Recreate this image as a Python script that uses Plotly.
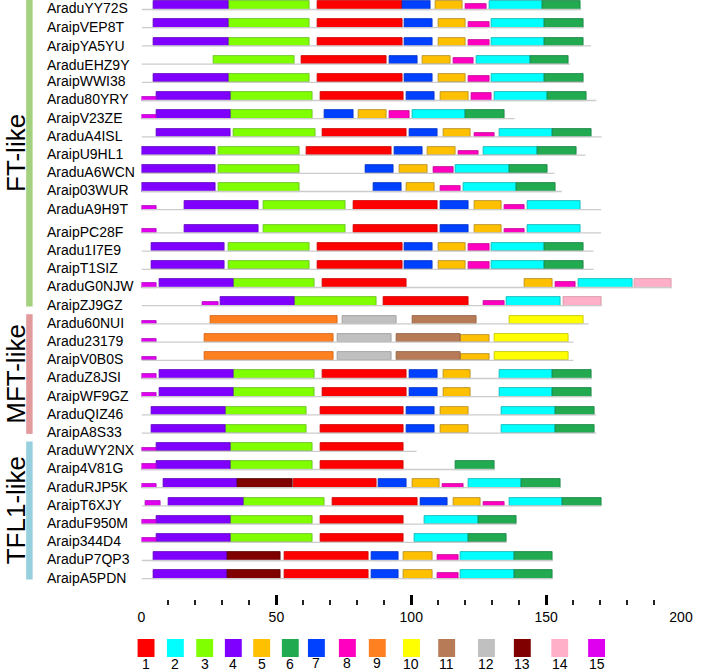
import plotly.graph_objects as go

# ---------------- data ----------------
names = ["AraduYY72S", "AraipVEP8T", "AraipYA5YU", "AraduEHZ9Y", "AraipWWI38", "Aradu80YRY",
         "AraipV23ZE", "AraduA4ISL", "AraipU9HL1", "AraduA6WCN", "Araip03WUR", "AraduA9H9T",
         "AraipPC28F", "Aradu1I7E9", "AraipT1SIZ", "AraduG0NJW", "AraipZJ9GZ",
         "Aradu60NUI", "Aradu23179", "AraipV0B0S", "AraduZ8JSI", "AraipWF9GZ", "AraduQIZ46", "AraipA8S33",
         "AraduWY2NX", "Araip4V81G", "AraduRJP5K", "AraipT6XJY", "AraduF950M", "Araip344D4",
         "AraduP7QP3", "AraipA5PDN"]

lengths = [163, 164, 166.7, 158.9, 164, 168.6, 138.3, 170.6, 164.6, 153.1, 155.8, 170.4,
           170.4, 167.6, 167.6, 196.5, 170.7,
           165.8, 160.1, 160.1, 166.8, 166.8, 168.6, 168.6,
           102, 130.8, 155.3, 170.4, 139.1, 135.3, 152.5, 152.5]

motif_ids = [
    [4, 3, 1, 7, 5, 8, 2, 6],
    [4, 3, 1, 7, 5, 8, 2, 6],
    [4, 3, 1, 7, 5, 8, 2, 6],
    [3, 1, 7, 5, 8, 2, 6],
    [4, 3, 1, 7, 5, 8, 2, 6],
    [15, 4, 3, 1, 7, 5, 8, 2, 6],
    [15, 4, 3, 7, 5, 8, 2, 6],
    [4, 3, 1, 7, 5, 8, 2, 6],
    [4, 3, 1, 7, 5, 8, 2, 6],
    [4, 3, 7, 5, 8, 2, 6],
    [4, 3, 7, 5, 8, 2, 6],
    [15, 4, 3, 1, 7, 5, 8, 2],
    [15, 4, 3, 1, 7, 5, 8, 2],
    [4, 3, 1, 7, 5, 8, 2, 6],
    [4, 3, 1, 7, 5, 8, 2, 6],
    [15, 4, 3, 1, 5, 8, 2, 14],
    [15, 4, 3, 1, 8, 2, 14],
    [15, 9, 12, 11, 10],
    [15, 9, 12, 11, 5, 10],
    [15, 9, 12, 11, 5, 10],
    [15, 4, 3, 1, 7, 5, 2, 6],
    [15, 4, 3, 1, 7, 5, 2, 6],
    [4, 3, 1, 7, 5, 2, 6],
    [4, 3, 1, 7, 5, 2, 6],
    [15, 4, 3, 1],
    [15, 4, 3, 1, 6],
    [15, 4, 13, 1, 7, 5, 8, 2, 6],
    [15, 4, 3, 1, 7, 5, 8, 2, 6],
    [15, 4, 3, 1, 2, 6],
    [15, 4, 3, 1, 2, 6],
    [4, 13, 1, 7, 5, 8, 2, 6],
    [4, 13, 1, 7, 5, 8, 2, 6],
]

motif_starts = [
    [4.6, 32.1, 65.2, 96.6, 109.1, 120.3, 129.0, 148.6],
    [4.6, 32.1, 65.2, 97.6, 110.0, 121.4, 129.9, 149.5],
    [4.6, 32.1, 65.2, 97.6, 110.0, 121.4, 129.9, 149.5],
    [26.6, 59.5, 91.9, 104.3, 115.7, 124.1, 144.1],
    [4.6, 32.1, 65.2, 97.6, 110.0, 121.4, 129.9, 149.5],
    [0, 5.5, 33.1, 66.2, 98.3, 110.9, 122.3, 130.8, 150.7],
    [0, 5.5, 33.1, 68.0, 80.5, 91.9, 100.6, 120.1],
    [5.7, 34.2, 67.1, 99.5, 111.8, 123.3, 132.7, 152.5],
    [0, 28.5, 61.3, 93.7, 106.0, 117.5, 126.9, 146.8],
    [0, 28.5, 83.1, 95.5, 108.1, 116.5, 136.5],
    [0, 28.5, 86.1, 98.4, 110.9, 119.3, 139.2],
    [0, 15.9, 45.4, 78.6, 110.9, 123.3, 134.5, 143.2],
    [0, 15.9, 45.4, 78.6, 110.9, 123.3, 134.5, 143.2],
    [3.6, 32.1, 65.2, 97.6, 110.0, 121.4, 129.9, 149.5],
    [3.6, 32.1, 65.2, 97.6, 110.0, 121.4, 129.9, 149.5],
    [0, 6.5, 34.1, 67.1, 142.0, 153.5, 162.0, 182.8],
    [22.7, 29.2, 56.9, 89.9, 126.9, 135.4, 156.4],
    [0, 25.4, 74.6, 100.6, 136.6],
    [0, 23.4, 72.8, 94.7, 118.3, 130.8],
    [0, 23.4, 72.8, 94.7, 118.3, 130.8],
    [0, 6.5, 34.1, 67.1, 99.5, 111.8, 132.7, 152.5],
    [0, 6.5, 34.1, 67.1, 99.5, 111.8, 132.7, 152.5],
    [3.6, 31.2, 66.2, 98.3, 110.9, 133.6, 153.5],
    [3.6, 31.2, 66.2, 98.3, 110.9, 133.6, 153.5],
    [0, 5.5, 33.1, 66.2],
    [0, 5.5, 33.1, 66.2, 116.4],
    [0, 8.2, 35.7, 56.3, 87.9, 100.4, 111.7, 121.4, 141.0],
    [1.6, 10.1, 37.7, 70.9, 103.3, 115.6, 126.9, 136.5, 156.2],
    [0, 5.5, 33.1, 66.2, 105.1, 124.9],
    [0, 5.5, 33.1, 66.2, 101.3, 121.1],
    [4.6, 31.7, 52.9, 85.1, 97.3, 109.9, 118.3, 138.3],
    [4.6, 31.7, 52.9, 85.1, 97.3, 109.9, 118.3, 138.3],
]

motif_ends = [
    [32.1, 62.3, 96.6, 107.0, 119.1, 127.8, 148.6, 162.8],
    [32.1, 62.3, 96.6, 108.0, 120.2, 129.0, 149.5, 164.0],
    [32.1, 62.3, 96.6, 108.0, 120.2, 129.0, 149.5, 164.0],
    [56.7, 90.7, 102.2, 114.7, 123.2, 144.1, 158.3],
    [32.1, 62.3, 96.6, 108.0, 120.2, 129.0, 149.5, 164.0],
    [5.5, 33.1, 63.5, 97.3, 108.8, 121.2, 129.8, 150.7, 164.9],
    [5.5, 33.1, 63.5, 78.5, 90.7, 99.4, 120.1, 134.4],
    [33.1, 64.4, 98.3, 109.9, 122.1, 130.8, 152.5, 166.8],
    [27.3, 58.6, 92.8, 104.2, 116.4, 125.0, 146.8, 161.1],
    [27.3, 58.6, 93.6, 105.9, 115.7, 136.5, 150.7],
    [27.3, 58.6, 96.5, 108.8, 118.3, 139.2, 153.5],
    [5.5, 43.5, 75.6, 109.9, 121.2, 133.4, 142.0, 162.8],
    [5.5, 43.5, 75.6, 109.9, 121.2, 133.4, 142.0, 162.8],
    [30.9, 62.3, 96.6, 108.0, 120.2, 129.0, 149.5, 163.8],
    [30.9, 62.3, 96.6, 108.0, 120.2, 129.0, 149.5, 163.8],
    [5.5, 34.1, 64.1, 98.3, 152.5, 161.0, 181.9, 196.5],
    [28.4, 56.9, 87.0, 121.4, 134.5, 155.3, 170.6],
    [5.5, 72.8, 94.6, 124.1, 163.8],
    [5.5, 71.0, 92.8, 118.3, 129.0, 158.3],
    [5.5, 71.0, 92.8, 118.3, 129.0, 158.3],
    [5.5, 34.1, 64.1, 98.3, 109.9, 122.1, 152.5, 166.8],
    [5.5, 34.1, 64.1, 98.3, 109.9, 122.1, 152.5, 166.8],
    [31.2, 61.2, 97.3, 108.8, 121.2, 153.5, 167.8],
    [31.2, 61.2, 97.3, 108.8, 121.2, 153.5, 167.8],
    [5.5, 33.1, 63.5, 97.3],
    [5.5, 33.1, 63.5, 97.3, 130.8],
    [5.5, 35.7, 55.9, 87.0, 98.2, 110.6, 119.3, 141.0, 155.3],
    [7.2, 37.7, 67.9, 102.2, 113.5, 125.7, 134.5, 156.2, 170.4],
    [5.5, 33.1, 63.5, 97.3, 124.9, 139.1],
    [5.5, 33.1, 63.5, 97.3, 121.1, 135.3],
    [31.7, 51.7, 84.0, 95.4, 108.0, 117.5, 138.3, 152.5],
    [31.7, 51.7, 84.0, 95.4, 108.0, 117.5, 138.3, 152.5],
]

# relative box heights (significance) per motif occurrence
motif_heights = [
    [1, 1, 1, 1, 1, 0.7, 1, 1],
    [1, 1, 1, 1, 1, 0.72, 1, 1],
    [1, 1, 1, 1, 1, 0.72, 1, 1],
    [1, 1, 1, 1, 0.76, 1, 1],
    [1, 1, 1, 1, 1, 0.72, 1, 1],
    [0.4, 1, 1, 1, 1, 1, 0.9, 1, 1],
    [0.4, 1, 1, 1, 1, 0.9, 1, 1],
    [1, 1, 1, 1, 1, 0.5, 1, 1],
    [1, 1, 1, 1, 1, 0.5, 1, 1],
    [1, 1, 1, 1, 0.7, 1, 1],
    [1, 1, 1, 1, 0.7, 1, 1],
    [0.5, 1, 1, 1, 1, 1, 0.6, 1],
    [0.5, 1, 1, 1, 1, 1, 0.5, 1],
    [1, 1, 1, 1, 1, 0.9, 1, 1],
    [1, 1, 1, 1, 1, 0.9, 1, 1],
    [0.5, 1, 1, 1, 1, 0.6, 1, 1],
    [0.5, 1, 1, 1, 0.6, 1, 1],
    [0.4, 1, 1, 1, 1],
    [0.4, 1, 1, 1, 0.8, 1],
    [0.4, 1, 1, 1, 0.8, 1],
    [0.5, 1, 1, 1, 1, 1, 1, 1],
    [0.5, 1, 1, 1, 1, 1, 1, 1],
    [1, 1, 1, 1, 1, 1, 1],
    [1, 1, 1, 1, 1, 1, 1],
    [0.4, 1, 1, 1],
    [0.6, 1, 1, 1, 1],
    [0.5, 1, 1, 1, 1, 1, 0.45, 1, 1],
    [0.6, 1, 1, 1, 1, 1, 0.45, 1, 1],
    [0.5, 1, 1, 1, 1, 1],
    [0.5, 1, 1, 1, 1, 1],
    [1, 1, 1, 1, 1, 0.7, 1, 1],
    [1, 1, 1, 1, 1, 0.7, 1, 1],
]

groups = ["FT-like", "MFT-like", "TFL1-like"]
group_sizes = [17, 7, 8]
group_colors = ["#a3d17e", "#e29a9d", "#96d0de"]

motif_labels = [str(i) for i in range(1, 16)]
motif_colors = ["#ff0000", "#00ffff", "#80ff00", "#8000ff", "#ffc000", "#22aa50", "#0040ff",
                "#ff00c0", "#ff8020", "#ffff00", "#b87b57", "#c0c0c0", "#800000", "#ffb0c8", "#e000f0"]
motif_edges = ["#cc0000", "#10b0b0", "#66bb22", "#6000c0", "#b08a20", "#138040", "#0030c0",
               "#c00090", "#d06010", "#c0c000", "#906040", "#999999", "#500000", "#d090a0", "#b000c0"]

tick_vals = [0, 50, 100, 150, 200]

# ---------------- layout helpers (pixels) ----------------
W, H = 705, 672
row_pitch = 18.2
first_center = 5.3
extra_gap_after = 12   # rows from this index shifted down
extra_gap = 5
box_h = 8.4
FONT = "Liberation Sans, Arial, Helvetica"

def row_center(i):
    return first_center + row_pitch * i + (extra_gap if i >= extra_gap_after else 0)

def row_line_y(i):
    return row_center(i) + box_h / 2

fig = go.Figure()

# backbone lines
lx, ly = [], []
for i, L in enumerate(lengths):
    yb = row_line_y(i)
    lx += [0, L, None]
    ly += [yb, yb, None]
fig.add_trace(go.Scatter(x=lx, y=ly, mode="lines", line=dict(color="#cccccc", width=1.3),
                         hoverinfo="skip", showlegend=False))

# motif boxes
for m in range(1, 16):
    ys, xs, bs, ws = [], [], [], []
    for i in range(len(names)):
        for mid, s, e, h in zip(motif_ids[i], motif_starts[i], motif_ends[i], motif_heights[i]):
            if mid != m:
                continue
            hh = box_h * h
            ys.append(row_line_y(i) - hh / 2)
            bs.append(s)
            xs.append(e - s)
            ws.append(hh)
    if not ys:
        continue
    fig.add_trace(go.Bar(orientation="h", y=ys, x=xs, base=bs, width=ws,
                         marker=dict(color=motif_colors[m - 1],
                                     line=dict(color=motif_edges[m - 1], width=0.8)),
                         name=motif_labels[m - 1], showlegend=False))

annotations = []
shapes = []

# row labels
label_dy = [0, 0, 1.5, 2.5] + [0] * 28
for i, n in enumerate(names):
    annotations.append(dict(x=43 / W, xref="paper", xanchor="left", y=row_center(i) + 3 + label_dy[i],
                            yref="y", yanchor="middle", text=n, showarrow=False, borderpad=0,
                            font=dict(family=FONT, size=14, color="black")))

# group bars and labels
start = 0
for g, size, col in zip(groups, group_sizes, group_colors):
    top = row_center(start) - 5.5
    bot = row_center(start + size - 1) + 5
    shapes.append(dict(type="rect", xref="paper", yref="y", x0=22.7 / W, x1=29.3 / W,
                       y0=max(top, 0), y1=bot, fillcolor=col, line=dict(width=0), layer="above"))
    annotations.append(dict(x=12 / W, xref="paper", xanchor="center", y=(top + bot) / 2, yref="y",
                            yanchor="middle", text=g, textangle=-90, showarrow=False, borderpad=0,
                            font=dict(family=FONT, size=26, color="black")))
    start += size

# motif colour key
key_x = [136.7, 166.7, 196.7, 226, 255, 284.3, 311, 342.7, 373.3, 408.3, 444.3, 485, 521.7, 560, 597.7]
key_dy = [0, 0, 0, 0, 0, 0, -1, -1, -1, 0, 0, 0, 0.5, 0.5, 0.5]
for k in range(15):
    shapes.append(dict(type="rect", xref="paper", yref="y", x0=key_x[k] / W, x1=(key_x[k] + 17.3) / W,
                       y0=639, y1=657, fillcolor=motif_colors[k], line=dict(width=0)))
    annotations.append(dict(x=(key_x[k] + 8.6) / W, xref="paper", xanchor="center",
                            y=663.5 + key_dy[k], yref="y", yanchor="middle", text=motif_labels[k],
                            showarrow=False, borderpad=0,
                            font=dict(family=FONT, size=14, color="black")))

fig.update_layout(
    width=W, height=H, margin=dict(l=0, r=0, t=0, b=0),
    paper_bgcolor="white", plot_bgcolor="white", barmode="overlay", bargap=0,
    showlegend=False, shapes=shapes, annotations=annotations,
    xaxis=dict(range=[0, 200], domain=[140.7 / W, 692.7 / W], anchor="free", position=1 - 605 / H,
               showgrid=False, zeroline=False, showline=False,
               tickvals=tick_vals, ticks="inside", ticklen=10, tickwidth=3, tickcolor="black",
               ticklabelstandoff=2,
               tickfont=dict(family=FONT, size=14, color="black"),
               minor=dict(dtick=10, ticks="inside", ticklen=5, tickwidth=2, tickcolor="#222222",
                          showgrid=False)),
    yaxis=dict(range=[H, 0], domain=[0, 1], visible=False, showgrid=False, zeroline=False),
)

fig.write_html("out.html", config={"displayModeBar": False},
               post_script="document.body.style.margin='0';document.body.style.padding='0';"
                           "document.body.style.overflow='hidden';")
